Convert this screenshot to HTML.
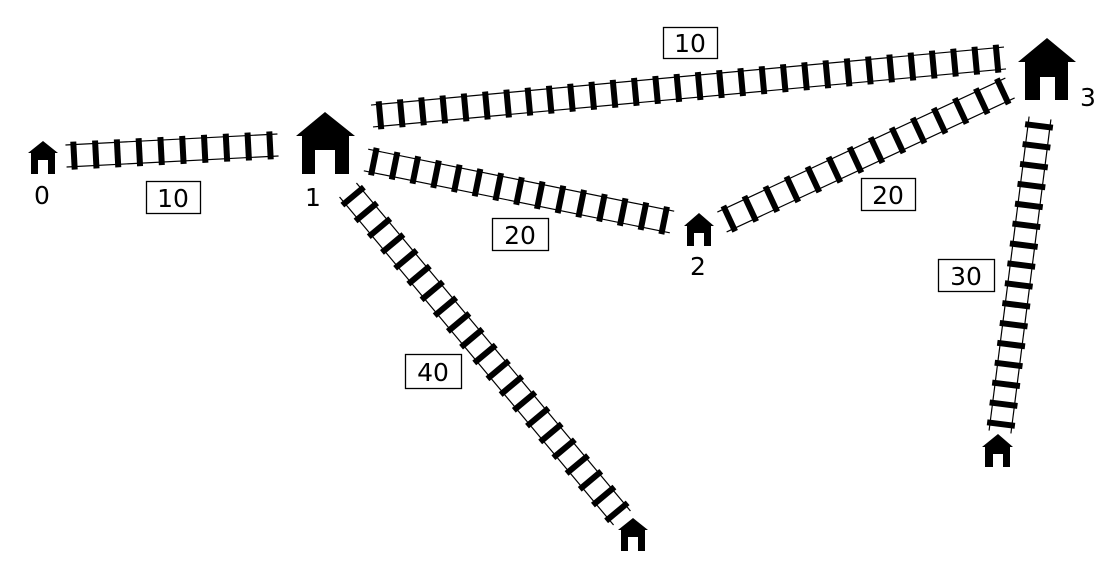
<!DOCTYPE html>
<html><head><meta charset="utf-8"><style>
html,body{margin:0;padding:0;background:#fff;width:1112px;height:578px;overflow:hidden}
svg{display:block}
text{font-family:"DejaVu Sans","Liberation Sans",sans-serif;font-size:25px;fill:#000}
</style></head><body>
<svg id="s" width="1112" height="578" viewBox="0 0 1112 578" xmlns="http://www.w3.org/2000/svg">
<g id="tracks"></g>
<g fill="#000">
<path d="M325,112 L355,136 L349,136 L349,174 L335,174 L335,150 L315,150 L315,174 L302,174 L302,136 L296,136 Z"/>
<path d="M1047,38 L1076,62 L1068,62 L1068,100 L1055,100 L1055,77 L1040,77 L1040,100 L1025,100 L1025,62 L1018,62 Z"/>
<path d="M43,141 L58,153 L55,153 L55,174 L48,174 L48,160 L38,160 L38,174 L31,174 L31,153 L28,153 Z"/>
<path d="M699,213 L714,226 L711,226 L711,246 L704,246 L704,233 L694,233 L694,246 L687,246 L687,226 L684,226 Z"/>
<path d="M633,518 L648,530 L645,530 L645,551 L638,551 L638,537 L628,537 L628,551 L621,551 L621,530 L618,530 Z"/>
<path d="M998,434 L1013,447 L1010,447 L1010,467 L1003,467 L1003,454 L993,454 L993,467 L985,467 L985,447 L982,447 Z"/>
</g>
<g fill="#fff" stroke="#000" stroke-width="1.3">
<rect x="663.5" y="27.5" width="54" height="31"/>
<rect x="146.5" y="181.5" width="54" height="32"/>
<rect x="492.5" y="218.5" width="56" height="32"/>
<rect x="861.5" y="178.5" width="54" height="32"/>
<rect x="938.5" y="259.5" width="56" height="32"/>
<rect x="405.5" y="354.5" width="56" height="34"/>
</g>
<text x="690" y="52" text-anchor="middle">10</text>
<text x="173" y="207" text-anchor="middle">10</text>
<text x="520" y="244" text-anchor="middle">20</text>
<text x="888" y="204" text-anchor="middle">20</text>
<text x="966" y="285" text-anchor="middle">30</text>
<text x="433" y="381" text-anchor="middle">40</text>
<text x="42" y="204" text-anchor="middle">0</text>
<text x="313" y="206" text-anchor="middle">1</text>
<text x="698" y="275" text-anchor="middle">2</text>
<text x="1088" y="106" text-anchor="middle">3</text>
</svg>
<script>
var g=document.getElementById('tracks'),NS='http://www.w3.org/2000/svg';
function ln(x1,y1,x2,y2,w){var l=document.createElementNS(NS,'line');l.setAttribute('x1',x1);l.setAttribute('y1',y1);l.setAttribute('x2',x2);l.setAttribute('y2',y2);l.setAttribute('stroke','#000');l.setAttribute('stroke-width',w);g.appendChild(l);}
function track(x1,y1,x2,y2,n){var dx=x2-x1,dy=y2-y1,L=Math.hypot(dx,dy),ux=dx/L,uy=dy/L,px=-uy,py=ux;
ln(x1+px*11,y1+py*11,x2+px*11,y2+py*11,1.2);ln(x1-px*11,y1-py*11,x2-px*11,y2-py*11,1.2);
var sp=(L-16)/(n-1);for(var i=0;i<n;i++){var cx=x1+ux*(8+i*sp),cy=y1+uy*(8+i*sp);ln(cx+px*14,cy+py*14,cx-px*14,cy-py*14,6);}}
track(66,156,278,145,10);
track(372,116,1005,58,30);
track(366,160,672,222,15);
track(722,222,1010,88,14);
track(1040,118,1000,432,16);
track(348,190,622,518,21);
</script>
</body></html>
